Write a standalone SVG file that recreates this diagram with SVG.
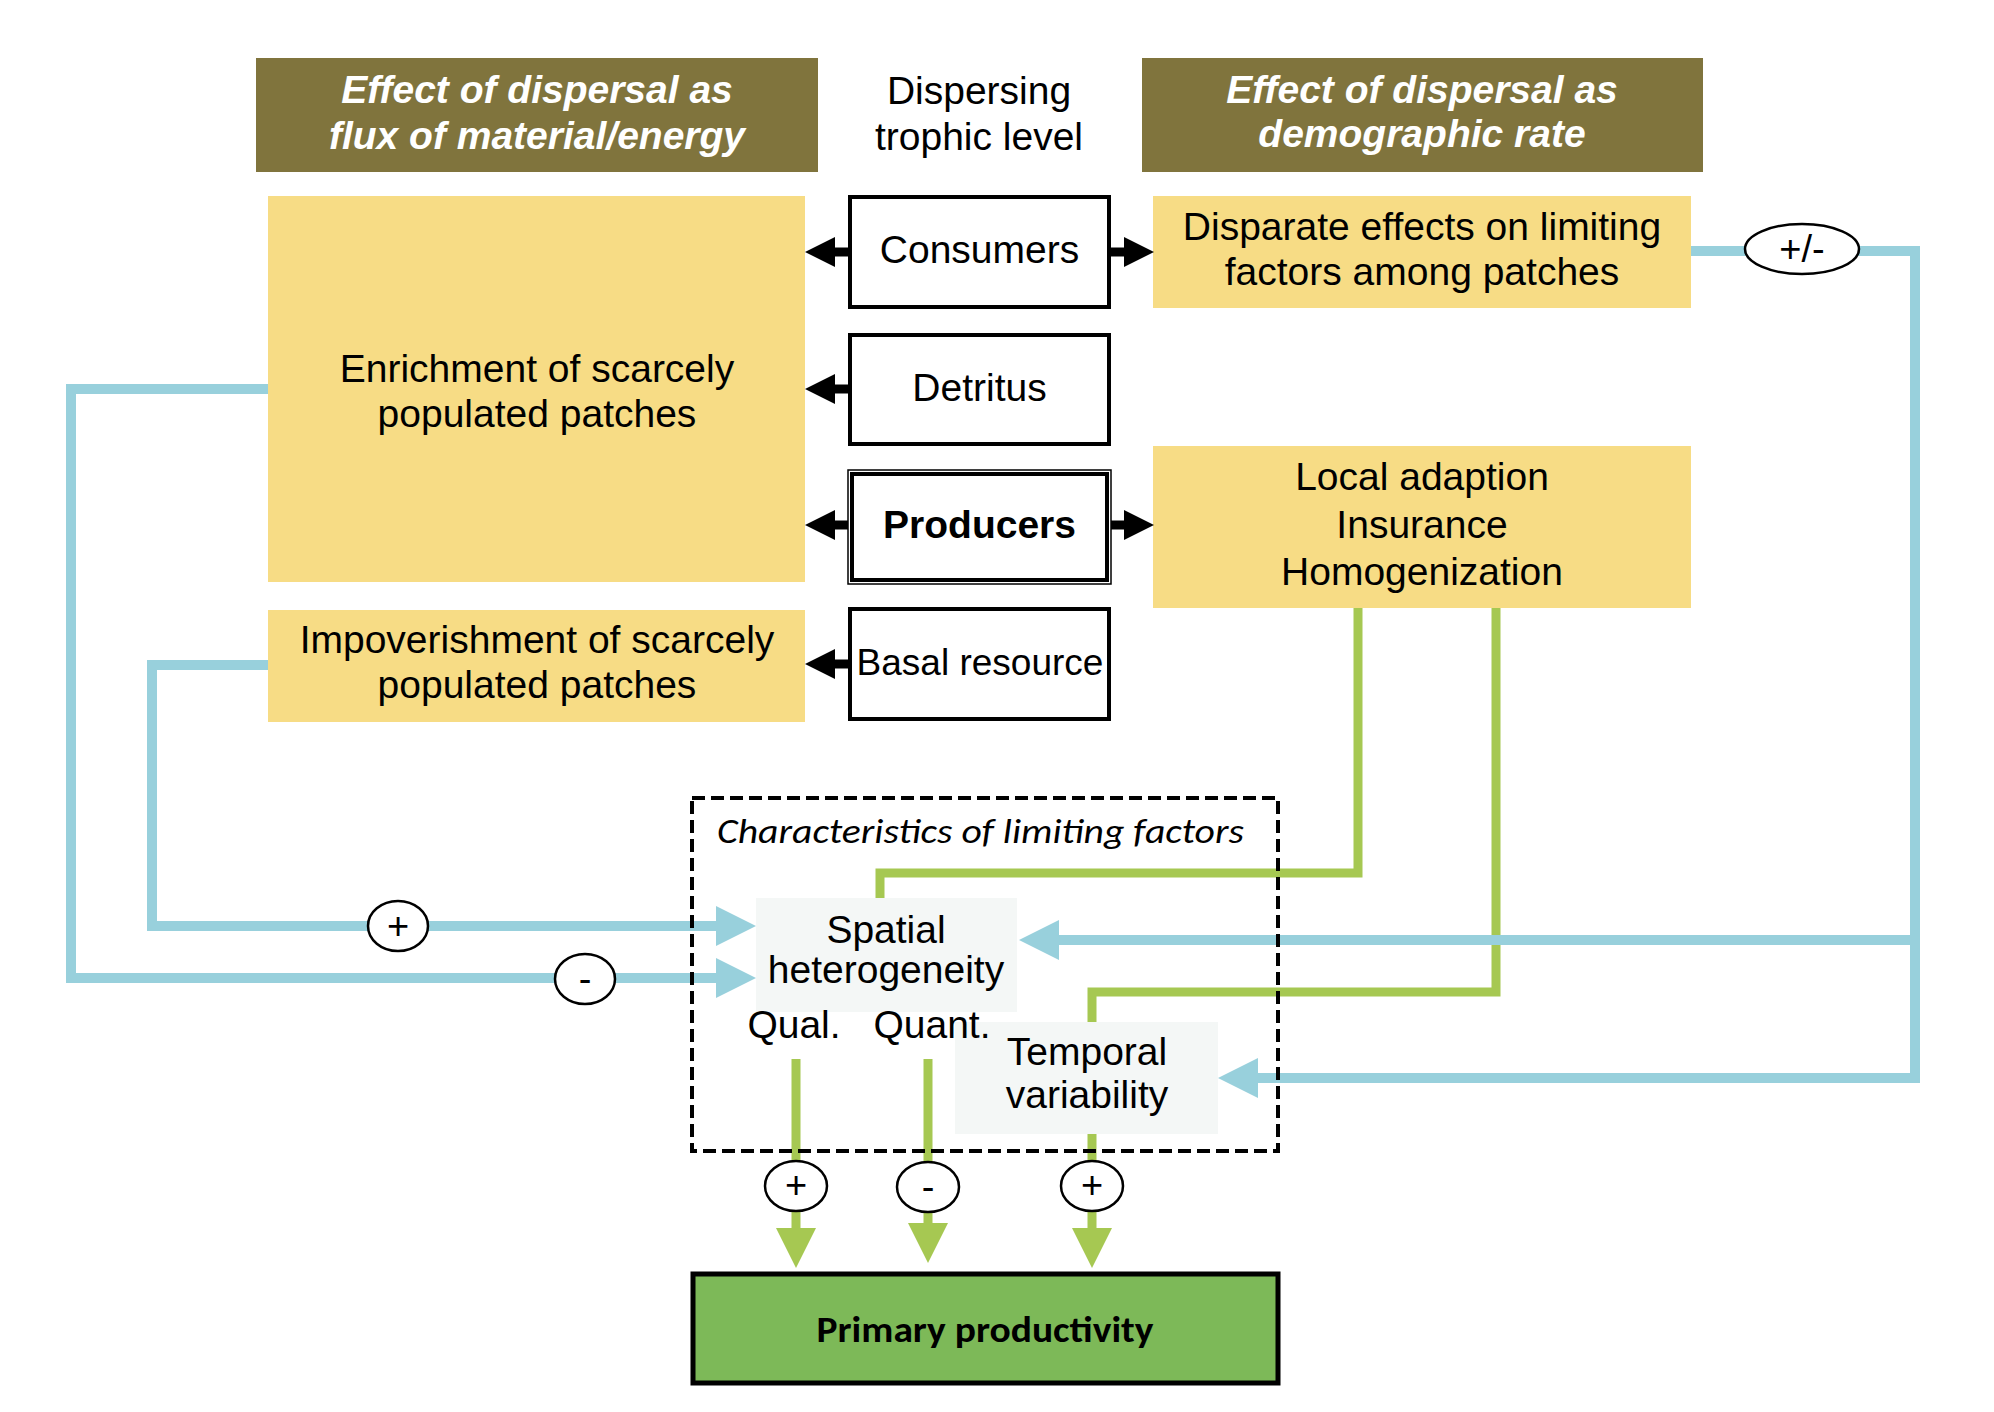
<svg xmlns="http://www.w3.org/2000/svg" width="1994" height="1412" viewBox="0 0 1994 1412">
<style>
.t{font-family:"Liberation Sans",Arial,sans-serif;font-size:39px;fill:#000;text-anchor:middle}
.hd{font-family:"Liberation Sans",Arial,sans-serif;font-size:39px;font-weight:bold;font-style:italic;fill:#fff;text-anchor:middle}
.hdr{fill:#80743d}
.yel{fill:#f7dc85}
.lvl{fill:#fff;stroke:#000;stroke-width:4}
.lt{fill:#f4f7f6}
.blue{fill:none;stroke:#98d0dc;stroke-width:10}
.green{fill:none;stroke:#a6c852;stroke-width:9}
.blk{fill:none;stroke:#000;stroke-width:9}
.sign{fill:#fff;stroke:#000;stroke-width:2.5}
.st{font-family:"Liberation Sans",Arial,sans-serif;font-size:38px;fill:#000;text-anchor:middle}
</style>
<defs>
<marker id="ab" markerUnits="userSpaceOnUse" markerWidth="42" markerHeight="42" refX="0" refY="20" orient="auto" overflow="visible"><path d="M0,0 L40,20 L0,40 z" fill="#98d0dc"/></marker>
<marker id="ag" markerUnits="userSpaceOnUse" markerWidth="42" markerHeight="42" refX="0" refY="20" orient="auto" overflow="visible"><path d="M0,0 L40,20 L0,40 z" fill="#a6c852"/></marker>
<marker id="ak" markerUnits="userSpaceOnUse" markerWidth="32" markerHeight="32" refX="0" refY="15" orient="auto" overflow="visible"><path d="M0,0 L30,15 L0,30 z" fill="#000"/></marker>
</defs>
<rect width="1994" height="1412" fill="#fff"/>

<g id="header-flux">
<rect class="hdr" x="256" y="58" width="562" height="114"/>
<text class="hd" x="537" y="103">Effect of dispersal as</text>
<text class="hd" x="537" y="149">flux of material/energy</text>
</g>
<g id="header-trophic">
<text class="t" x="979" y="104">Dispersing</text>
<text class="t" x="979" y="150">trophic level</text>
</g>
<g id="header-demographic">
<rect class="hdr" x="1142" y="58" width="561" height="114"/>
<text class="hd" x="1422" y="103">Effect of dispersal as</text>
<text class="hd" x="1422" y="147">demographic rate</text>
</g>

<g id="enrichment">
<rect class="yel" x="268" y="196" width="537" height="386"/>
<text class="t" x="537" y="382">Enrichment of scarcely</text>
<text class="t" x="537" y="427">populated patches</text>
</g>
<g id="impoverishment">
<rect class="yel" x="268" y="610" width="537" height="112"/>
<text class="t" x="537" y="653">Impoverishment of scarcely</text>
<text class="t" x="537" y="698">populated patches</text>
</g>
<g id="disparate">
<rect class="yel" x="1153" y="196" width="538" height="112"/>
<text class="t" x="1422" y="240">Disparate effects on limiting</text>
<text class="t" x="1422" y="285">factors among patches</text>
</g>
<g id="local">
<rect class="yel" x="1153" y="446" width="538" height="162"/>
<text class="t" x="1422" y="490">Local adaption</text>
<text class="t" x="1422" y="538">Insurance</text>
<text class="t" x="1422" y="585">Homogenization</text>
</g>

<g id="consumers">
<rect class="lvl" x="850" y="197" width="259" height="110"/>
<text class="t" x="979.5" y="263">Consumers</text>
</g>
<g id="detritus">
<rect class="lvl" x="850" y="335" width="259" height="109"/>
<text class="t" x="979.5" y="401">Detritus</text>
</g>
<g id="producers">
<rect x="848" y="470" width="263" height="114" fill="#fff" stroke="#000" stroke-width="1.5"/>
<rect x="852" y="474" width="255" height="106" fill="none" stroke="#000" stroke-width="4"/>
<text class="t" x="979.5" y="538" font-weight="bold">Producers</text>
</g>
<g id="basal">
<rect class="lvl" x="850" y="609" width="259" height="110"/>
<text class="t" x="980" y="675" style="font-size:37px">Basal resource</text>
</g>

<g id="temporal">
<rect class="lt" x="955" y="1022" width="263" height="112"/>
<text class="t" x="1087" y="1065">Temporal</text>
<text class="t" x="1087" y="1108">variability</text>
</g>
<g id="spatial">
<rect class="lt" x="756" y="898" width="261" height="114"/>
<text class="t" x="886" y="943">Spatial</text>
<text class="t" x="886" y="983">heterogeneity</text>
<text class="t" x="794" y="1038">Qual.</text>
<text class="t" x="932" y="1038">Quant.</text>
</g>

<g id="primary">
<rect x="693" y="1274" width="585" height="109" fill="#7db958" stroke="#000" stroke-width="5"/>
<text x="985" y="1342" font-family="Carlito, Lato, sans-serif" font-size="36" font-weight="bold" text-anchor="middle" textLength="337" lengthAdjust="spacingAndGlyphs">Primary productivity</text>
</g>

<g id="connectors">
<line class="blk" x1="848" y1="252" x2="835" y2="252" marker-end="url(#ak)"/>
<line class="blk" x1="1111" y1="252" x2="1124" y2="252" marker-end="url(#ak)"/>
<line class="blk" x1="848" y1="389" x2="835" y2="389" marker-end="url(#ak)"/>
<line class="blk" x1="848" y1="525" x2="835" y2="525" marker-end="url(#ak)"/>
<line class="blk" x1="1111" y1="525" x2="1124" y2="525" marker-end="url(#ak)"/>
<line class="blk" x1="848" y1="664" x2="835" y2="664" marker-end="url(#ak)"/>

<polyline class="green" points="1358,608 1358,873 880,873 880,898"/>
<polyline class="green" points="1496,608 1496,992 1092,992 1092,1022"/>
<line class="green" x1="796" y1="1059" x2="796" y2="1228" marker-end="url(#ag)"/>
<line class="green" x1="928" y1="1059" x2="928" y2="1223" marker-end="url(#ag)"/>
<line class="green" x1="1092" y1="1134" x2="1092" y2="1228" marker-end="url(#ag)"/>

<polyline class="blue" points="268,389 71,389 71,978 716,978" marker-end="url(#ab)"/>
<polyline class="blue" points="268,665 152,665 152,926 716,926" marker-end="url(#ab)"/>
<polyline class="blue" points="1691,251 1915,251 1915,1078 1258,1078" marker-end="url(#ab)"/>
<polyline class="blue" points="1915,940 1059,940" marker-end="url(#ab)"/>

<ellipse class="sign" cx="1802" cy="249" rx="57" ry="25"/>
<text class="st" x="1802" y="262">+/-</text>
<ellipse class="sign" cx="398" cy="926" rx="30" ry="25"/>
<text class="st" x="398" y="939">+</text>
<ellipse class="sign" cx="585" cy="979" rx="30" ry="25"/>
<text class="st" x="585" y="992">-</text>
<ellipse class="sign" cx="796" cy="1186" rx="31" ry="25"/>
<text class="st" x="796" y="1198">+</text>
<ellipse class="sign" cx="928" cy="1187" rx="31" ry="25"/>
<text class="st" x="928" y="1200">-</text>
<ellipse class="sign" cx="1092" cy="1186" rx="31" ry="25"/>
<text class="st" x="1092" y="1198">+</text>
</g>

<g id="limiting-factors">
<rect x="692" y="798" width="586" height="353" fill="none" stroke="#000" stroke-width="4" stroke-dasharray="13 6"/>
<text x="717" y="843" font-family="Carlito, Lato, sans-serif" font-size="34" font-style="italic" textLength="527" lengthAdjust="spacingAndGlyphs">Characteristics of limiting factors</text>
</g>
</svg>
